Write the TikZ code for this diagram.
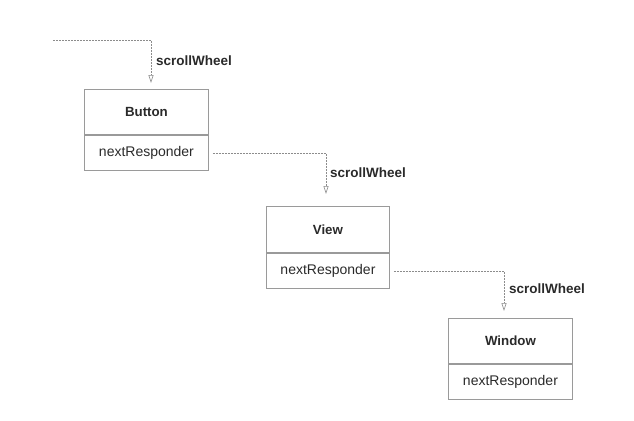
\documentclass[tikz,border=0pt]{standalone}
\usepackage{fontspec}
\setmainfont{Liberation Sans}
\usetikzlibrary{arrows.meta,positioning}
\definecolor{boxline}{HTML}{9A9A9A}
\definecolor{dashline}{HTML}{8C8C8C}
\definecolor{txt}{HTML}{2A2A2A}
\tikzset{
  titlebox/.style={draw=boxline, line width=0.9pt, minimum width=124pt, minimum height=45pt, inner sep=0pt, text=txt, font=\fontsize{13.3}{15}\selectfont\bfseries, anchor=north west},
  fieldbox/.style={draw=boxline, line width=0.9pt, minimum width=124pt, minimum height=35pt, inner sep=0pt, text=txt, font=\fontsize{14}{16}\selectfont, anchor=north},
  conn/.style={draw=dashline, line width=0.6pt, dash pattern=on 2pt off 1pt, -{Triangle[open, length=8pt, width=5pt, line width=0.6pt]}},
  msg/.style={text=txt, font=\fontsize{13.5}{15}\selectfont\bfseries, anchor=west, inner sep=0pt}
}
\begin{document}
\begin{tikzpicture}[x=1pt,y=-1pt]
\useasboundingbox (0,0) rectangle (634,420);
% boxes
\node[titlebox] (btnT) at (84,89) {Button};
\node[fieldbox] (btnN) at (btnT.south) {nextResponder};
\node[titlebox, minimum width=123pt, minimum height=46pt] (viewT) at (266,206) {View};
\node[fieldbox, minimum width=123pt] (viewN) at (viewT.south) {nextResponder};
\node[titlebox] (winT) at (448,318) {Window};
\node[fieldbox] (winN) at (winT.south) {nextResponder};
% connector points
\coordinate (s1) at (53,40);
\coordinate (t1) at (151,83);
\coordinate (t2) at (326,194);
\coordinate (t3) at (504,311);
% connectors
\draw[conn] (s1) -| (t1);
\draw[conn, shorten <=4pt] (btnN.east) -| (t2);
\draw[conn, shorten <=4pt] (viewN.east) -| (t3);
% labels
\node[msg] (m1) at (156,61) {scrollWheel};
\node[msg] (m2) at (330,173) {scrollWheel};
\node[msg] (m3) at (509,289) {scrollWheel};
\end{tikzpicture}
\end{document}
